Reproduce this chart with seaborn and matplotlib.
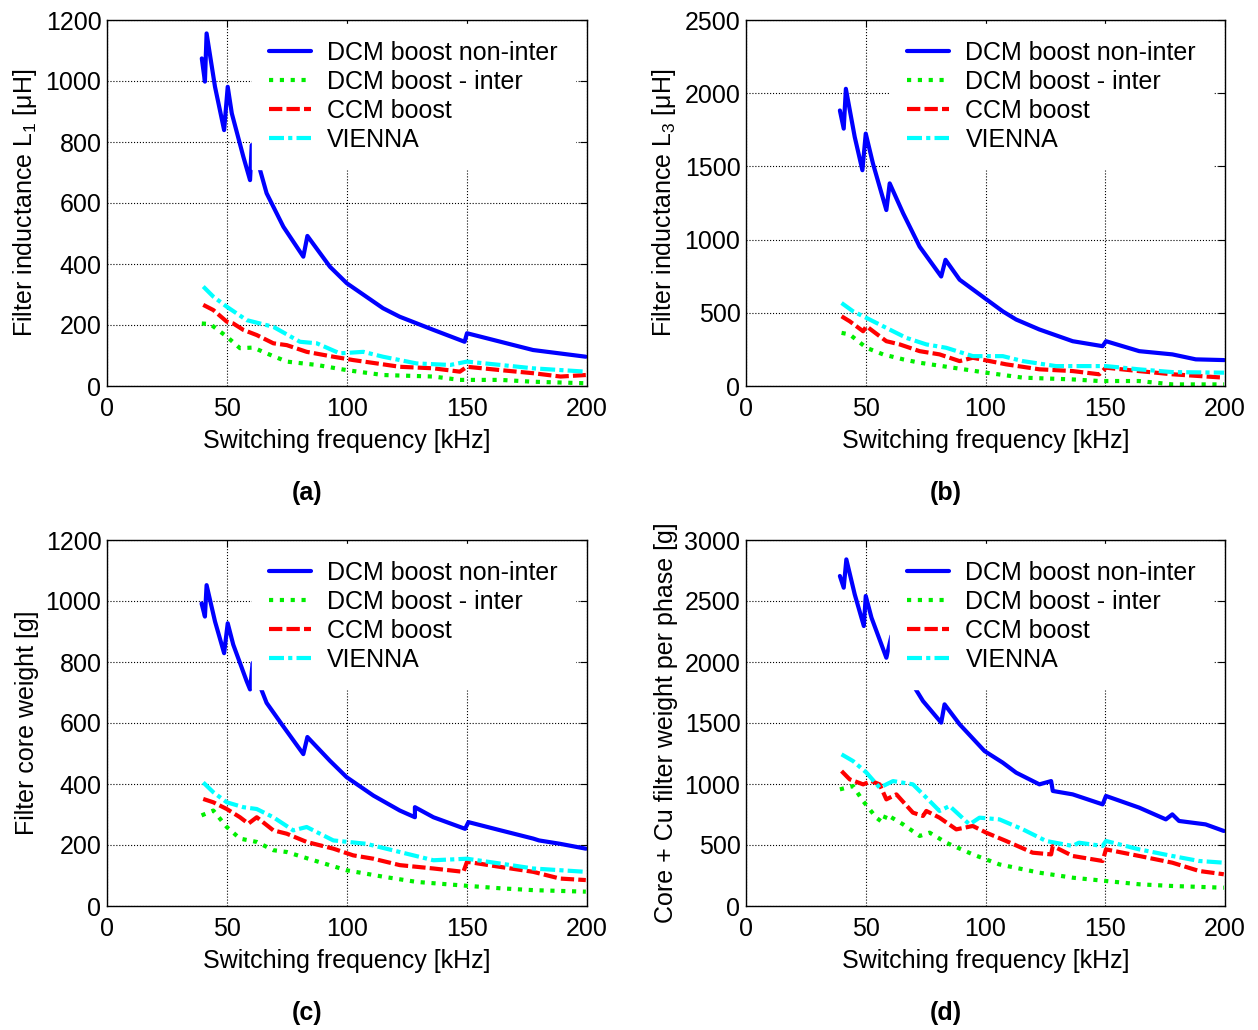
import numpy as np
import pandas as pd
import matplotlib
matplotlib.use("Agg")
import matplotlib.pyplot as plt
import seaborn as sns

# ---- data (x in kHz) ----
# (a) filter inductance L1 [uH]
a_blue_x = [39.5, 40.8, 41.5, 45.0, 48.8, 50.3, 52.0, 56.8, 59.6, 60.3, 61.5, 62.4, 66.5, 73.5, 81.8, 83.5, 92.9, 99.9, 108, 115, 122, 136, 149, 150, 164, 177.5, 199.5]
a_blue_y = [1074, 998, 1156, 981, 839, 981, 894, 752, 675, 790, 770, 747, 632, 522, 424, 492, 391, 337, 293, 255, 227, 184, 145, 173, 145, 118, 96]
a_green_x = [39.5, 43.0, 49.9, 55.4, 61.0, 66.5, 74.9, 87.4, 99.9, 115, 136, 147, 164, 177.5, 199.5]
a_green_y = [205, 203, 162, 124, 126, 107, 80, 69, 52, 36, 31, 20, 20, 14, 9]
a_red_x = [40.1, 44.3, 49.9, 52.6, 56.8, 62.4, 69.3, 74.9, 83.2, 94.3, 102.6, 108, 122, 136, 147, 150, 164, 177.5, 189, 199.5]
a_red_y = [266, 249, 211, 205, 184, 167, 140, 134, 112, 96, 85, 79, 63, 58, 47, 63, 52, 42, 31, 36]
a_cyan_x = [40.1, 44.3, 49.9, 58.2, 69.3, 80.4, 87.4, 97, 106.8, 115, 129, 143, 150, 164, 177.5, 199.5]
a_cyan_y = [326, 293, 260, 216, 194, 145, 140, 107, 112, 96, 74, 69, 80, 69, 58, 47]

# (b) filter inductance L3 [uH]
b_blue_x = [39.2, 40.8, 41.7, 45.4, 48.6, 50.0, 53.0, 58.6, 60.0, 65.6, 72.5, 81.5, 83.3, 89.2, 99.6, 107.2, 112.8, 122.5, 136.4, 148.9, 150.3, 164.2, 178, 187.8, 199.6]
b_blue_y = [1882, 1758, 2030, 1701, 1474, 1724, 1520, 1202, 1384, 1180, 952, 748, 862, 726, 601, 510, 454, 386, 306, 272, 306, 238, 216, 182, 177]
b_green_x = [39.9, 43.3, 50.3, 57.2, 65.6, 72.5, 86.4, 100.3, 115.6, 136.4, 147.5, 150.3, 164, 178, 199.6]
b_green_y = [363, 352, 261, 216, 182, 159, 125, 91, 57, 45, 34, 34, 34, 11, 11]
b_red_x = [39.9, 43.3, 48.9, 50.3, 58.6, 64.2, 72.5, 80.8, 89.2, 94.7, 108.6, 122.5, 136.4, 147.5, 150.3, 164, 178, 199.6]
b_red_y = [476, 442, 374, 408, 306, 284, 238, 216, 170, 193, 148, 114, 102, 80, 125, 102, 80, 57]
b_cyan_x = [39.9, 44.7, 50.3, 58.6, 66.9, 75.3, 83.6, 94.7, 107.2, 115.6, 129.4, 150.3, 164, 178, 199.6]
b_cyan_y = [567, 510, 465, 397, 329, 284, 261, 204, 204, 170, 136, 136, 114, 95, 91]

# (c) filter core weight [g]
c_blue_x = [39.4, 40.8, 41.5, 45.0, 48.8, 50.3, 52.6, 58.2, 59.6, 60.7, 61.5, 62.4, 66.5, 72.8, 81.8, 83.5, 92.9, 99.9, 111, 122, 128.3, 128.3, 136, 149.2, 150.6, 164, 177.6, 180, 188.7, 199.5]
c_blue_y = [992, 949, 1052, 933, 829, 927, 857, 737, 710, 797, 770, 748, 666, 596, 498, 554, 476, 422, 362, 313, 291, 324, 291, 253, 275, 248, 221, 215, 204, 188]
c_green_x = [39.4, 44.3, 49.9, 55.4, 62.4, 69.3, 74.9, 86, 99.9, 115.1, 129, 147, 164, 177.6, 199.5]
c_green_y = [297, 313, 259, 221, 210, 183, 177, 150, 117, 96, 79, 68, 58, 52, 47]
c_red_x = [40.1, 44.3, 49.9, 55.4, 58.9, 62.4, 69.3, 74.9, 83.2, 94.3, 102.6, 111, 122, 136, 148.5, 150, 164, 177.6, 188.7, 199.5]
c_red_y = [351, 340, 318, 291, 270, 291, 248, 237, 210, 188, 166, 155, 134, 123, 112, 145, 128, 112, 90, 85]
c_cyan_x = [40.1, 44.3, 49.9, 56.8, 62.4, 69.3, 77.6, 83.2, 94.3, 108, 122, 136, 150, 164, 177.6, 199.5]
c_cyan_y = [405, 373, 340, 324, 318, 291, 248, 259, 215, 204, 177, 150, 155, 139, 123, 112]

# (d) core + Cu filter weight per phase [g]
d_blue_x = [39.2, 40.8, 41.9, 45.4, 49.2, 50.0, 52.4, 58.6, 60.7, 63.0, 66.0, 68.3, 73.9, 81.5, 82.9, 89.2, 99.6, 107.2, 112.8, 122.5, 127.4, 128.1, 136.4, 148.9, 150.3, 164.2, 175.3, 178, 180.8, 191.9, 199.5]
d_blue_y = [2705, 2609, 2841, 2554, 2295, 2541, 2363, 2035, 2213, 2100, 1960, 1858, 1680, 1503, 1653, 1489, 1270, 1175, 1093, 997, 1024, 943, 915, 833, 902, 806, 710, 751, 697, 669, 615]
d_green_x = [39.2, 44.7, 48.9, 54.4, 57.2, 58.6, 65.6, 72.5, 76.7, 83.6, 94.7, 105.8, 122.5, 136.4, 150.3, 164.2, 178, 199.5]
d_green_y = [956, 983, 860, 724, 683, 751, 669, 574, 601, 519, 423, 341, 273, 232, 205, 178, 164, 150]
d_red_x = [39.9, 43.3, 48.9, 52.4, 55.8, 58.6, 62.8, 69.7, 73.9, 75.3, 80.8, 87.8, 94.7, 100.3, 108.6, 119.7, 127.4, 128.1, 136.4, 148.9, 150.3, 164.2, 178, 189.2, 199.5]
d_red_y = [1106, 1038, 997, 1024, 997, 874, 915, 765, 738, 779, 724, 628, 656, 601, 533, 437, 423, 492, 410, 369, 464, 410, 355, 287, 260]
d_cyan_x = [39.9, 44.7, 50.3, 55.8, 61.4, 69.7, 75.3, 80.8, 85, 93.3, 97.5, 105.8, 115.6, 125.3, 136.4, 139, 148.9, 150.3, 164.2, 178, 189.2, 199.5]
d_cyan_y = [1243, 1188, 1093, 970, 1024, 997, 888, 779, 820, 669, 724, 710, 628, 533, 492, 519, 492, 533, 464, 410, 369, 355]

labels = ["DCM boost non-inter", "DCM boost - inter", "CCM boost", "VIENNA"]
colors = ["#0000FF", "#00EE00", "#FF0000", "#00FFFF"]
dash_styles = [(None, None), (1, 1.6), (3.2, 1.0), (3.6, 1.0, 1.0, 1.0)]

panels = [
    ("(a)", "Filter inductance L$_1$ [μH]", 1200, 200,
     [(a_blue_x, a_blue_y), (a_green_x, a_green_y), (a_red_x, a_red_y), (a_cyan_x, a_cyan_y)]),
    ("(b)", "Filter inductance L$_3$ [μH]", 2500, 500,
     [(b_blue_x, b_blue_y), (b_green_x, b_green_y), (b_red_x, b_red_y), (b_cyan_x, b_cyan_y)]),
    ("(c)", "Filter core weight [g]", 1200, 200,
     [(c_blue_x, c_blue_y), (c_green_x, c_green_y), (c_red_x, c_red_y), (c_cyan_x, c_cyan_y)]),
    ("(d)", "Core + Cu filter weight per phase [g]", 3000, 500,
     [(d_blue_x, d_blue_y), (d_green_x, d_green_y), (d_red_x, d_red_y), (d_cyan_x, d_cyan_y)]),
]

sns.set_theme(style="white")
plt.rcParams["font.family"] = ["Liberation Sans", "DejaVu Sans"]
plt.rcParams["mathtext.fontset"] = "custom"
plt.rcParams["mathtext.rm"] = "Liberation Sans"
plt.rcParams["mathtext.it"] = "Liberation Sans"
plt.rcParams["text.color"] = "black"
plt.rcParams["axes.labelcolor"] = "black"

W, H = 1258, 1030
fig = plt.figure(figsize=(W / 100, H / 100), dpi=100)
fig.patch.set_facecolor("white")

# axes boxes in pixels: left, top, right, bottom
boxes = [(107, 20, 587, 386), (746, 20, 1225, 386), (107, 540, 587, 906), (746, 540, 1225, 906)]
tag_pos = [(307, 493), (946, 493), (307, 1013), (946, 1013)]

fs = 18
for (tag, ylab, ymax, ystep, series), (l, t, r, b), (tx, ty) in zip(panels, boxes, tag_pos):
    ax = fig.add_axes([l / W, (H - b) / H, (r - l) / W, (b - t) / H])
    for (xs, ys), lab, col, ds in zip(series, labels, colors, dash_styles):
        df = pd.DataFrame({"f": xs, "v": ys})
        kw = {} if ds[0] is None else {"dashes": ds}
        sns.lineplot(data=df, x="f", y="v", ax=ax, color=col, lw=3, sort=False,
                     estimator=None, label=lab, **kw)
    ax.set_xlim(0, 200)
    ax.set_ylim(0, ymax)
    ax.set_xticks(np.arange(0, 201, 50))
    ax.set_yticks(np.arange(0, ymax + 1, ystep))
    ax.grid(True, color="black", linestyle=":", lw=0.8)
    for s in ax.spines.values():
        s.set_color("black")
        s.set_linewidth(1.0)
        s.set_visible(True)
        s.set_zorder(6)
    ax.tick_params(direction="in", length=5, width=0.8, top=True, right=True,
                   labelsize=fs, colors="black")
    ax.tick_params(axis="x", pad=8)
    ax.tick_params(axis="y", pad=4)
    ax.set_xlabel("Switching frequency [kHz]", fontsize=fs, labelpad=6, color="black")
    ax.set_ylabel(ylab, fontsize=fs, labelpad=5, color="black")
    leg = ax.legend(loc="upper right", bbox_to_anchor=(0.975, 0.99), borderaxespad=0,
                    fontsize=fs, frameon=True, fancybox=False, framealpha=1,
                    facecolor="white", edgecolor="white", handlelength=1.68,
                    handletextpad=0.64, labelspacing=0.2, borderpad=0.68)
    for txt in leg.get_texts():
        txt.set_color("black")
    fig.text(tx / W, 1 - ty / H, tag, ha="center", va="center", fontsize=fs,
             fontweight="bold", color="black")

fig.savefig("out.png", dpi=100)
